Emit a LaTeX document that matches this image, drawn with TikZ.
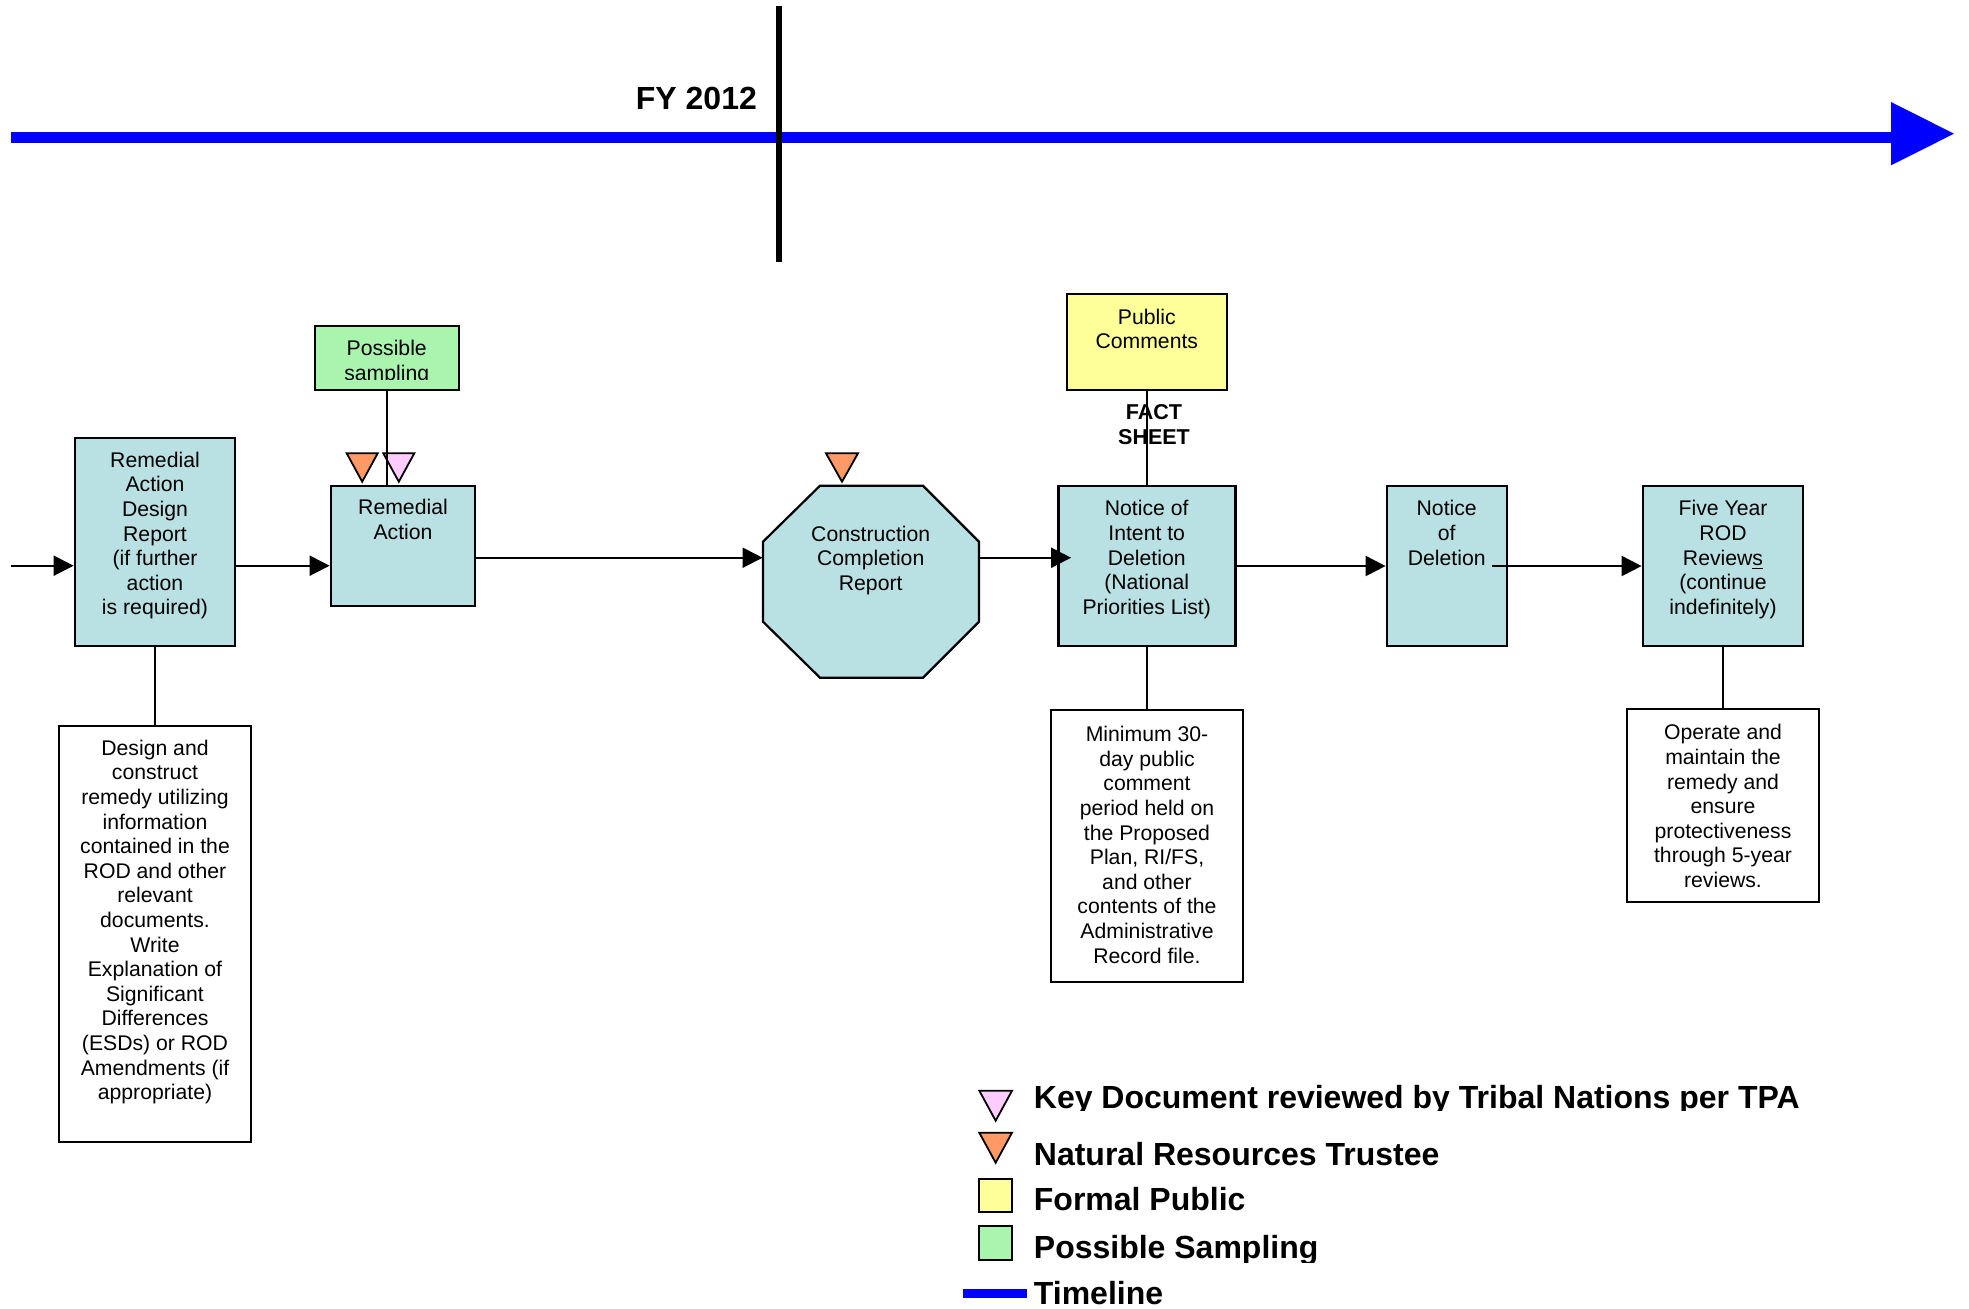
\documentclass[tikz,border=0pt]{standalone}
\usepackage{fontspec}
\setmainfont{Liberation Sans}
\usetikzlibrary{arrows.meta}
\definecolor{boxfill}{RGB}{185,224,226}
\definecolor{sampfill}{RGB}{169,245,173}
\definecolor{pubfill}{RGB}{255,255,153}
\definecolor{nrtfill}{RGB}{255,153,102}
\definecolor{tribfill}{RGB}{255,204,255}
\definecolor{tlblue}{RGB}{0,0,255}
\begin{document}
\begin{tikzpicture}[x=0.5pt,y=-0.5pt,
  box/.style={draw=black, line width=1.1pt, fill=boxfill, inner sep=0pt},
  wbox/.style={draw=black, line width=1.1pt, fill=white, inner sep=0pt},
  txt/.style={align=center, inner sep=0pt, anchor=north, font=\fontsize{10.6}{12.3}\selectfont},
  conn/.style={draw=black, line width=1pt},
  arr/.style={conn, -{Triangle[length=10pt,width=10pt]}},
  tri/.style={draw=black, line width=0.9pt, line join=miter},
  legtxt/.style={anchor=base west, inner sep=0pt, font=\fontsize{16}{18}\selectfont\bfseries},
]
\useasboundingbox (0,0) rectangle (1969,1308);

% timeline
\fill[tlblue] (11,132) rectangle (1891,143.3);
\fill[tlblue] (1891,102) -- (1954,133.7) -- (1891,165.3) -- cycle;
\draw[black, line width=3pt] (779,6) -- (779,262);
\node[anchor=base east, inner sep=0pt, font=\fontsize{16}{18}\selectfont\bfseries] (fy12) at (757.3,109.3) {FY 2012};

% boxes
\node[box, minimum width=80.3pt, minimum height=104.15pt] (rad) at (155,541.85) {};
\node[box, minimum width=72.3pt, minimum height=60pt] (ra) at (403,546) {};
\node[draw=black, line width=1.1pt, fill=sampfill, inner sep=0pt, minimum width=72.3pt, minimum height=32.15pt] (ps) at (387,357.85) {};
\node[inner sep=0pt, minimum width=108pt, minimum height=96pt] (oct) at (871,581.7) {};
\filldraw[fill=boxfill, draw=black, line width=1.1pt, line join=miter]
  (820,485.7) -- (923,485.7) -- (979,541.7) -- (979,621.7) -- (923,677.7)
  -- (820,677.7) -- (763,621.7) -- (763,541.7) -- cycle;
\node[box, minimum width=88.5pt, minimum height=80.15pt] (ni) at (1147,565.85) {};
\node[draw=black, line width=1.1pt, fill=pubfill, inner sep=0pt, minimum width=80.2pt, minimum height=48.15pt] (pc) at (1146.8,341.85) {};
\node[box, minimum width=60.3pt, minimum height=80.15pt] (nd) at (1447,565.85) {};
\node[box, minimum width=80.3pt, minimum height=80.15pt] (fy) at (1723,565.85) {};
\node[wbox, minimum width=96.3pt, minimum height=96.35pt] (op) at (1723,805.65) {};
\node[wbox, minimum width=96.15pt, minimum height=136pt] (mn) at (1147.15,846) {};
\node[wbox, minimum width=96pt, minimum height=207.85pt] (ds) at (155,933.85) {};

% triangles
\filldraw[tri, fill=nrtfill] (346.7,453.3) -- (377.7,453.3) -- (362.2,481.7) -- cycle;
\filldraw[tri, fill=tribfill] (383.3,453.3) -- (414.3,453.3) -- (398.8,481.7) -- cycle;
\filldraw[tri, fill=nrtfill] (826,453.3) -- (858,453.3) -- (842,481.7) -- cycle;

% connectors
\coordinate (yA) at (0,565.7);
\coordinate (yB) at (0,557.7);
\coordinate (yC) at (0,566);
\coordinate (in0) at (10.7,565.7);
\draw[arr] (in0) -- (rad.west |- yA);
\draw[arr] (rad.east |- yA) -- (ra.west |- yA);
\draw[arr] (ra.east |- yB) -- (oct.west |- yB);
\draw[arr, shorten >=-6.85pt] (oct.east |- yB) -- (ni.west |- yB);
\draw[arr] (ni.east |- yC) -- (nd.west |- yC);
\draw[arr, shorten <=-8.15pt] (nd.east |- yC) -- (fy.west |- yC);
\draw[conn] (ps.south) -- (ps.south |- ra.north);
\draw[conn] (pc.south) -- (pc.south |- ni.north);
\draw[conn] (ni.south) -- (ni.south |- mn.north);
\draw[conn] (fy.south) -- (fy.south |- op.north);
\draw[conn] (rad.south) -- (rad.south |- ds.north);

% texts
\node[txt] (trad) at (155,451.5) {Remedial\\Action\\Design\\Report\\(if further\\action\\is required)};
\node[txt] (tra) at (403,499) {Remedial\\Action};
\begin{scope}
\clip (314.7,325.7) rectangle (459.3,379);
\node[txt] (tps) at (386.7,340.2) {Possible\\sampling};
\end{scope}
\node[txt] (toct) at (870.7,525.4) {Construction\\Completion\\Report};
\node[txt] (tni) at (1146.7,500.2) {Notice of\\Intent to\\Deletion\\(National\\Priorities List)};
\node[txt] (tpc) at (1146.8,308.5) {Public\\Comments};
\node[anchor=north, align=center, inner sep=0pt, font=\fontsize{10.75}{12.65}\selectfont\bfseries] (fs) at (1154,403.9) {FACT\\SHEET};
\node[txt] (tnd) at (1446.7,500.2) {Notice\\of\\Deletion};
\node[txt] (tfy) at (1723,500.2) {Five Year\\ROD\\Review\underline{s}\\(continue\\indefinitely)};
\node[txt] (top) at (1723,724.2) {Operate and\\maintain the\\remedy and\\ensure\\protectiveness\\through 5-year\\reviews.};
\node[txt] (tmn) at (1147,726) {Minimum 30-\\day public\\comment\\period held on\\the Proposed\\Plan, RI/FS,\\and other\\contents of the\\Administrative\\Record file.};
\node[txt] (tds) at (155,739.5) {Design and\\construct\\remedy utilizing\\information\\contained in the\\ROD and other\\relevant\\documents.\\Write\\Explanation of\\Significant\\Differences\\(ESDs) or ROD\\Amendments (if\\appropriate)};

% legend
\filldraw[tri, fill=tribfill] (979.3,1090.7) -- (1012,1090.7) -- (995.65,1120.7) -- cycle;
\filldraw[tri, fill=nrtfill] (979.3,1132.7) -- (1012,1132.7) -- (995.65,1162.7) -- cycle;
\filldraw[draw=black, line width=1pt, fill=pubfill] (978.7,1178.7) rectangle (1012.3,1211.7);
\filldraw[draw=black, line width=1pt, fill=sampfill] (978.7,1226.3) rectangle (1012.3,1259.7);
\draw[tlblue, line width=4.5pt] (962.7,1293.5) -- (1027.3,1293.5);
\begin{scope}
\clip (1030,1070) rectangle (1860,1110.7);
\node[legtxt] (l1) at (1033.5,1108.3) {Key Document reviewed by Tribal Nations per TPA};
\end{scope}
\node[legtxt] (l2) at (1033.5,1165.7) {Natural Resources Trustee};
\node[legtxt] (l3) at (1033.5,1210) {Formal Public};
\begin{scope}
\clip (1030,1220) rectangle (1860,1262.3);
\node[legtxt] (l4) at (1033.5,1258.3) {Possible Sampling};
\end{scope}
\node[legtxt] (l5) at (1033.5,1304) {Timeline};
\end{tikzpicture}
\end{document}
